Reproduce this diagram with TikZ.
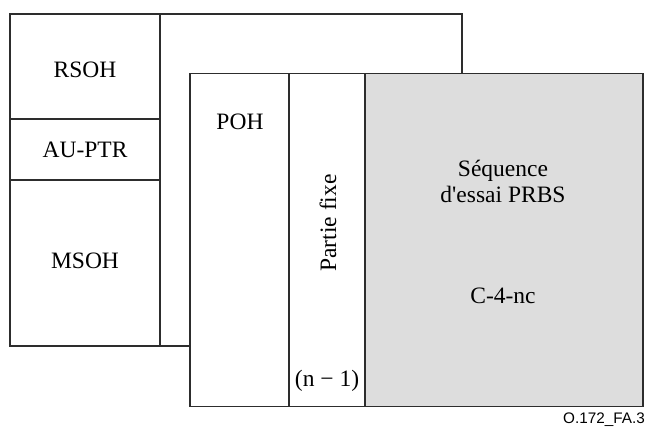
\documentclass[tikz,border=0pt]{standalone}
\usepackage{fontspec}
\setmainfont{Liberation Serif}
\newfontfamily\bodyfont{Liberation Serif}
\newfontfamily\labelfont{Liberation Sans}
\definecolor{framegray}{RGB}{45,45,45}
\definecolor{payloadgray}{RGB}{221,221,221}
\begin{document}
\begin{tikzpicture}[x=1pt,y=-1pt,
  frame/.style={draw=framegray,line width=1.2pt},
  txt/.style={font=\bodyfont\fontsize{23.5}{26}\selectfont,inner sep=0pt,text=black},
  tag/.style={font=\labelfont\fontsize{15.3}{17}\selectfont,inner sep=0pt,anchor=east}]
\useasboundingbox (0,0) rectangle (645,429);
% rear frame: section overhead column
\fill[white] (10,14) rectangle (462,346);
\draw[frame] (10,14) rectangle (462,346);
\draw[frame] (160,14) -- (160,346);
\draw[frame] (10,119) -- (160,119);
\draw[frame] (10,180) -- (160,180);
\node[txt] (rsoh) at (85,70) {RSOH};
\node[txt] (auptr) at (85,150) {AU-PTR};
\node[txt] (msoh) at (85,261) {MSOH};
% front frame: VC-4-nc
\fill[white] (190,73.5) rectangle (643,406.5);
\fill[payloadgray] (365,73.5) rectangle (643,406.5);
\draw[frame] (190,73.5) rectangle (643,406.5);
\draw[frame] (289,73.5) -- (289,406.5);
\draw[frame] (365,73.5) -- (365,406.5);
\node[txt] (poh) at (240,122) {POH};
\node[txt,rotate=90] (fixe) at (328,223) {Partie fixe};
\node[txt] (nm1) at (327,381) {(n − 1)};
\node[txt,align=center] (prbs) at (503,181) {Séquence\\d'essai PRBS};
\node[txt] (c4nc) at (503,296) {C-4-nc};
\node[tag] (fig) at (645,420) {O.172\_FA.3};
\end{tikzpicture}
\end{document}
